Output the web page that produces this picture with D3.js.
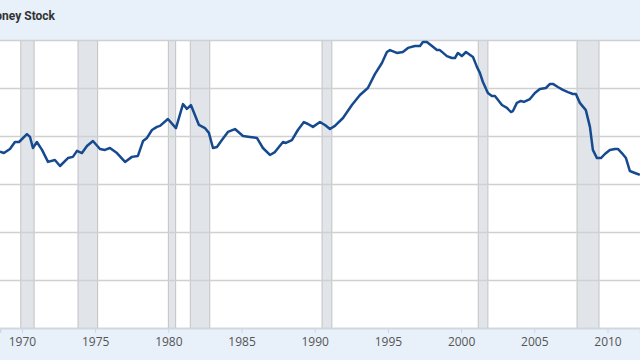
<!DOCTYPE html>
<html>
<head>
<meta charset="utf-8">
<script src="https://cdn.jsdelivr.net/npm/d3@7"></script>
<style>
  html, body { margin: 0; padding: 0; background: #e8f0f9; }
  svg { display: block; }
</style>
</head>
<body>
<div id="chart"></div>
<script>
// Velocity of M2 Money Stock
const years = [1968.50, 1968.77, 1969.18, 1969.52, 1969.80, 1970.34, 1970.55, 1970.75, 1971.02, 1971.37,
  1971.78, 1972.25, 1972.60, 1973.14, 1973.48, 1973.76, 1974.10, 1974.44, 1974.85, 1975.33,
  1975.67, 1976.01, 1976.49, 1977.04, 1977.51, 1977.92, 1978.27, 1978.54, 1978.88, 1979.22,
  1979.43, 1979.97, 1980.52, 1981.00, 1981.27, 1981.54, 1982.09, 1982.50, 1982.77, 1983.05,
  1983.32, 1983.66, 1984.07, 1984.55, 1985.10, 1985.57, 1986.05, 1986.46, 1986.94, 1987.28,
  1987.83, 1988.03, 1988.44, 1988.85, 1989.26, 1989.54, 1989.88, 1990.36, 1990.70, 1991.04,
  1991.38, 1991.93, 1992.54, 1993.09, 1993.63, 1994.11, 1994.59, 1994.93, 1995.14, 1995.61,
  1996.02, 1996.37, 1996.84, 1997.19, 1997.39, 1997.66, 1998.01, 1998.35, 1998.55, 1999.03,
  1999.37, 1999.58, 1999.78, 2000.05, 2000.33, 2000.81, 2001.08, 2001.28, 2001.49, 2001.83,
  2002.10, 2002.31, 2002.79, 2003.13, 2003.40, 2003.54, 2003.81, 2004.08, 2004.29, 2004.70,
  2005.04, 2005.38, 2005.79, 2006.07, 2006.27, 2006.61, 2006.95, 2007.30, 2007.64, 2007.84,
  2008.11, 2008.52, 2008.80, 2009.00, 2009.28, 2009.55, 2009.82, 2010.16, 2010.51, 2010.71,
  2010.98, 2011.26, 2011.53, 2011.87, 2012.21];
const values = [1.735, 1.729, 1.746, 1.775, 1.775, 1.808, 1.796, 1.750, 1.775, 1.742,
  1.692, 1.700, 1.675, 1.708, 1.713, 1.738, 1.729, 1.758, 1.779, 1.746,
  1.742, 1.750, 1.729, 1.692, 1.713, 1.717, 1.779, 1.792, 1.825, 1.838,
  1.842, 1.871, 1.833, 1.933, 1.913, 1.929, 1.846, 1.833, 1.813, 1.750,
  1.754, 1.783, 1.817, 1.829, 1.800, 1.796, 1.792, 1.750, 1.721, 1.733,
  1.775, 1.771, 1.783, 1.825, 1.858, 1.850, 1.838, 1.858, 1.846, 1.829,
  1.842, 1.875, 1.929, 1.971, 2.000, 2.058, 2.104, 2.150, 2.158, 2.146,
  2.150, 2.167, 2.175, 2.175, 2.192, 2.192, 2.175, 2.158, 2.158, 2.133,
  2.125, 2.125, 2.146, 2.133, 2.150, 2.129, 2.088, 2.063, 2.025, 1.979,
  1.967, 1.967, 1.929, 1.917, 1.900, 1.904, 1.938, 1.946, 1.942, 1.954,
  1.979, 1.996, 2.000, 2.017, 2.017, 2.004, 1.992, 1.983, 1.975, 1.975,
  1.938, 1.908, 1.838, 1.742, 1.708, 1.708, 1.725, 1.742, 1.746, 1.746,
  1.729, 1.708, 1.654, 1.646, 1.638];

// NBER recessions (start, end) as decimal years
const recStart = [1969.92, 1973.83, 1980.00, 1981.50, 1990.50, 2001.17, 2007.92];
const recEnd   = [1970.83, 1975.17, 1980.50, 1982.83, 1991.17, 2001.83, 2009.42];

const xTicks = [1970, 1975, 1980, 1985, 1990, 1995, 2000, 2005, 2010];
const yTicks = [1.0, 1.2, 1.4, 1.6, 1.8, 2.0, 2.2];
const title = "Velocity of M2 Money Stock";

const W = 640, H = 360;
const plotTop = 40, plotBottom = 328;

const svg = d3.select("#chart").append("svg")
    .attr("width", W)
    .attr("height", H);

svg.append("rect").attr("width", W).attr("height", H).attr("fill", "#e8f0f9");

const x = d3.scaleLinear().domain([1968.5, 2012.22]).range([0, W]);
const y = d3.scaleLinear().domain([1.0, 2.2]).range([plotBottom, plotTop]);

// plot background
svg.append("rect")
   .attr("x", 0).attr("y", plotTop)
   .attr("width", W).attr("height", plotBottom - plotTop)
   .attr("fill", "#ffffff");

// recession bars
const rec = svg.append("g");
recStart.forEach((s, i) => {
    const x0 = x(s), x1 = x(recEnd[i]);
    rec.append("rect")
       .attr("x", x0).attr("y", plotTop)
       .attr("width", x1 - x0).attr("height", plotBottom - plotTop)
       .attr("fill", "#e1e5ea");
    [x0, x1].forEach(xx => {
        rec.append("line")
           .attr("x1", xx).attr("x2", xx)
           .attr("y1", plotTop).attr("y2", plotBottom)
           .attr("stroke", "#c2c2c2").attr("stroke-width", 1);
    });
});

// horizontal gridlines
svg.append("g")
   .selectAll("line")
   .data(yTicks)
   .join("line")
   .attr("x1", 0).attr("x2", W)
   .attr("y1", d => Math.round(y(d)) + 0.5)
   .attr("y2", d => Math.round(y(d)) + 0.5)
   .attr("stroke", "#d0d0d0")
   .attr("stroke-width", 1.3);

// x axis
const xAxis = svg.append("g")
   .attr("transform", `translate(0,${plotBottom})`)
   .call(d3.axisBottom(x).tickValues(xTicks).tickFormat(d3.format("d")).tickSize(5).tickPadding(4));
xAxis.select(".domain").attr("stroke", "#cfd7e3").attr("stroke-width", 1.5);
xAxis.selectAll(".tick line").attr("stroke", "#ccd6eb");
xAxis.selectAll(".tick text")
     .attr("fill", "#555")
     .style("font-family", "'Open Sans', sans-serif")
     .style("font-size", "12px");

// series line
svg.append("path")
   .datum(d3.zip(years, values))
   .attr("fill", "none")
   .attr("stroke", "#164a8f")
   .attr("stroke-width", 2.5)
   .attr("stroke-linejoin", "round")
   .attr("d", d3.line()
                 .x(d => x(d[0]))
                 .y(d => y(d[1])));

// title (cut at the left edge like the reference)
svg.append("text")
   .attr("x", 55).attr("y", 20)
   .attr("text-anchor", "end")
   .attr("fill", "#333")
   .style("font-family", "Roboto, sans-serif")
   .style("font-weight", "bold")
   .style("font-size", "12px")
   .text(title);
</script>
</body>
</html>
